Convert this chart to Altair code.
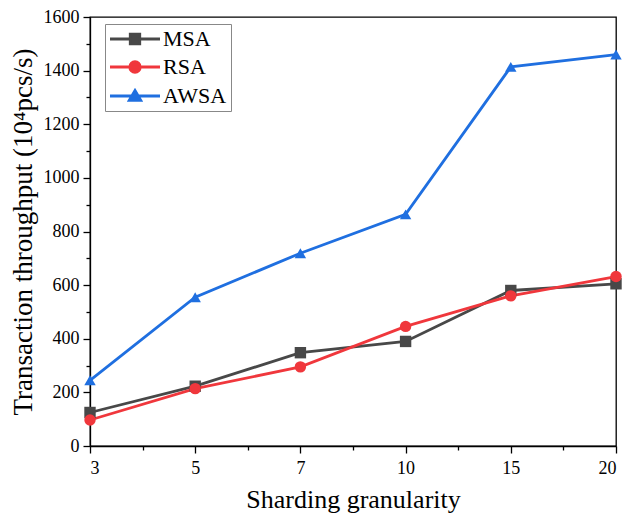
import altair as alt
import pandas as pd

x_labels = ["3", "5", "7", "10", "15", "20"]
msa = [125, 223, 348, 390, 580, 605]
rsa = [97, 214, 295, 446, 560, 632]
awsa = [245, 555, 719, 864, 1414, 1460]
series_names = ["MSA", "RSA", "AWSA"]
marker_shapes = ["square", "circle", "triangle-up"]
colors = ["#484848", "#f0373c", "#1f6fe0"]

rows = []
for name, vals in zip(series_names, [msa, rsa, awsa]):
    for i, v in enumerate(vals):
        rows.append({"idx": i, "gran": x_labels[i], "value": v, "series": name})
df = pd.DataFrame(rows)

FONT = "Liberation Serif"
label_arr = "[" + ",".join("'" + s + "'" for s in x_labels) + "]"

x_enc = alt.X(
    "idx:Q",
    scale=alt.Scale(domain=[0, len(x_labels) - 1], nice=False, zero=False),
    axis=alt.Axis(
        title="Sharding granularity",
        values=[i * 0.5 for i in range(2 * len(x_labels) - 1)],
        labelExpr=f"datum.value % 1 == 0 ? {label_arr}[datum.value] : ''",
        tickSize={"condition": {"test": "datum.value % 1 != 0", "value": 4}, "value": 7},
        grid=False,
        labelFontSize=18,
        titleFontSize=26,
        titleFontWeight="normal",
        titlePadding=9,
        labelPadding=6,
    ),
)
y_enc = alt.Y(
    "value:Q",
    scale=alt.Scale(domain=[0, 1600], nice=False),
    axis=alt.Axis(
        title="Transaction throughput (10⁴pcs/s)",
        values=list(range(0, 1700, 100)),
        format="d",
        labelExpr="datum.value % 200 == 0 ? datum.label : ''",
        tickSize={"condition": {"test": "datum.value % 200 != 0", "value": 4}, "value": 7},
        grid=False,
        labelFontSize=18,
        titleFontSize=27,
        titleFontWeight="normal",
        titlePadding=6,
        labelPadding=4,
    ),
)

color_scale = alt.Scale(domain=series_names, range=colors)

lines = alt.Chart(df).mark_line(strokeWidth=2.8).encode(
    x=x_enc, y=y_enc,
    color=alt.Color("series:N", scale=color_scale),
    detail="series:N",
)

point_layers = []
for name, shp in zip(series_names, marker_shapes):
    point_layers.append(
        alt.Chart(df).transform_filter(alt.datum.series == name)
        .mark_point(filled=True, size=130, opacity=1, shape=shp)
        .encode(x=x_enc, y=y_enc, color=alt.Color("series:N", scale=color_scale))
    )

legend_paths = [
    "M-5,0H5M-0.95,-0.95H0.95V0.95H-0.95Z",
    "M-5,0H5M-1.05,0A1.05,1.05 0 1,0 1.05,0A1.05,1.05 0 1,0 -1.05,0Z",
    "M-5,0H5M0,-1.1L1.15,0.85H-1.15Z",
]
leg = alt.Legend(title=None, orient="none", legendX=15, legendY=7, symbolOpacity=1)
legend_layer = alt.Chart(df).mark_point(filled=True, opacity=0).encode(
    x=x_enc, y=y_enc,
    color=alt.Color("series:N", scale=color_scale, legend=leg),
    stroke=alt.Stroke("series:N", scale=color_scale, legend=leg),
    shape=alt.Shape("series:N", scale=alt.Scale(domain=series_names, range=legend_paths), legend=leg),
)

chart = alt.layer(lines, *point_layers, legend_layer).properties(
    width=526, height=429,
    autosize=alt.AutoSizeParams(type="none"),
    padding={"left": 82, "top": 9, "right": 9, "bottom": 67},
).configure_view(stroke="black", strokeWidth=1.3).configure_axis(
    labelFont=FONT, titleFont=FONT, labelColor="black", titleColor="black",
    domainColor="black", tickColor="black", domainWidth=1.3, tickWidth=1.3,
).configure_legend(
    labelFont=FONT, labelFontSize=22, labelColor="black",
    symbolSize=100, symbolStrokeWidth=2.8, symbolOffset=15, labelOffset=17,
    strokeColor="#888888", fillColor="white", padding=4, rowPadding=6,
    labelLimit=200,
)

chart.save("out.html", embed_options={"renderer": "svg", "actions": False})
